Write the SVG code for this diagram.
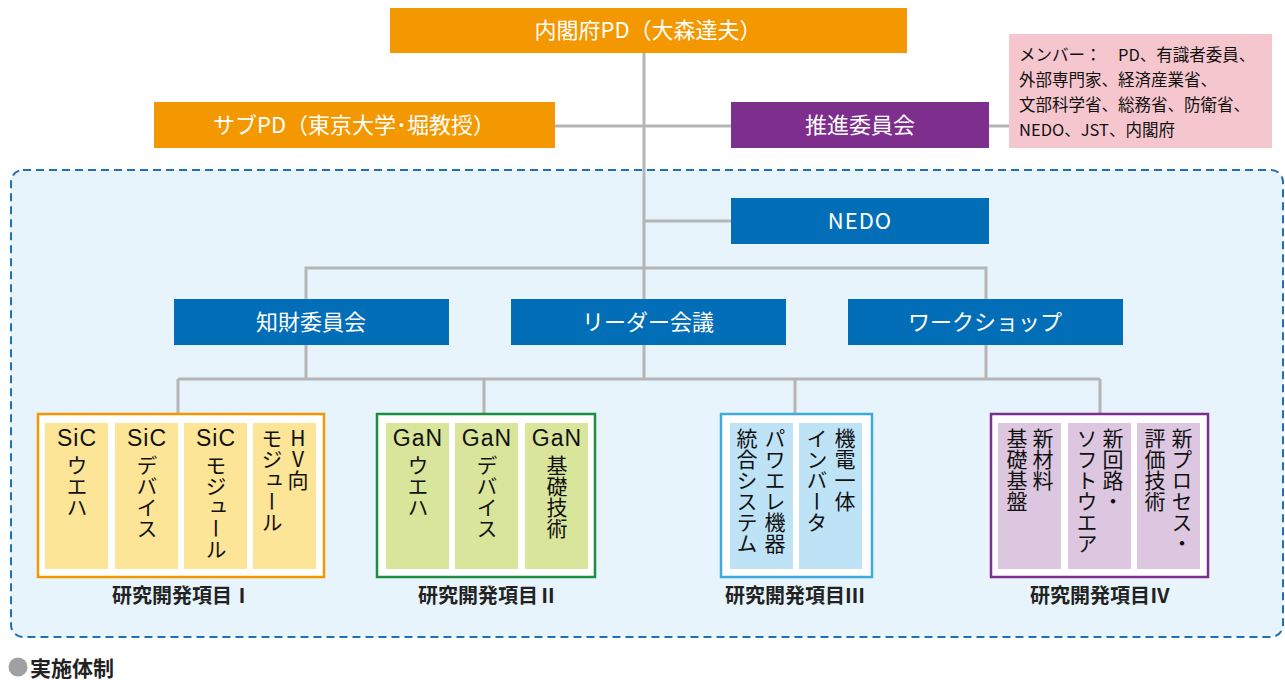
<svg xmlns="http://www.w3.org/2000/svg" width="1285" height="680" viewBox="0 0 1285 680">
<style>
text{font-family:"Noto Sans CJK JP","Noto Sans",sans-serif}
.lbl{fill:#fff;font-size:22px;text-anchor:middle}
.orange{fill:#F39800}
.blue{fill:#036EB8}
.purple{fill:#7E2E8C}
.conn{stroke:#B5B5B5;stroke-width:3;fill:none}
.grp{fill:#fff;stroke-width:2.5}
.abbr{font-family:"Liberation Sans",Arial,sans-serif;font-size:23px;text-anchor:middle;fill:#111;letter-spacing:1px}
.vt{writing-mode:vertical-rl;text-orientation:upright;font-size:21px;fill:#111}
.cap{font-size:20px;font-weight:bold;text-anchor:middle;fill:#222}
.mem{font-size:16.5px;fill:#111}
</style>
<rect id="container" x="11" y="170" width="1272" height="467" rx="12" fill="#E7F4FC" stroke="#1F70B6" stroke-width="2" stroke-dasharray="8 5"/>
<g id="connectors" class="conn">
<line x1="644" y1="53" x2="644" y2="379"/>
<line x1="555" y1="126" x2="731" y2="126"/>
<line x1="989" y1="126" x2="1009" y2="126"/>
<line x1="644" y1="221" x2="731" y2="221"/>
<polyline points="306,299 306,268 986,268 986,299"/>
<line x1="306" y1="345" x2="306" y2="379"/>
<line x1="986" y1="345" x2="986" y2="379"/>
<line x1="178" y1="379" x2="1100" y2="379"/>
<line x1="178" y1="379" x2="178" y2="414"/>
<line x1="484" y1="379" x2="484" y2="414"/>
<line x1="795" y1="379" x2="795" y2="414"/>
<line x1="1100" y1="379" x2="1100" y2="414"/>
</g>
<g id="cabinet-pd"><rect class="orange" x="390" y="8" width="517" height="45"/><text class="lbl" x="648" y="38">内閣府PD（大森達夫）</text></g>
<g id="sub-pd"><rect class="orange" x="154" y="102" width="401" height="46"/><text class="lbl" x="354" y="133">サブPD（東京大学･堀教授）</text></g>
<g id="promotion-committee"><rect class="purple" x="731" y="102" width="258" height="46"/><text class="lbl" x="860" y="133">推進委員会</text></g>
<g id="members"><rect x="1009" y="34" width="263" height="114" fill="#F6C6CE"/>
<text class="mem" x="1019" y="61">メンバー：　PD、有識者委員、</text>
<text class="mem" x="1019" y="86">外部専門家、経済産業省、</text>
<text class="mem" x="1019" y="111">文部科学省、総務省、防衛省、</text>
<text class="mem" x="1019" y="136">NEDO、JST、内閣府</text></g>
<g id="nedo"><rect class="blue" x="731" y="198" width="258" height="46"/><text class="lbl" x="860" y="229" letter-spacing="1">NEDO</text></g>
<g id="ip-committee"><rect class="blue" x="174" y="299" width="275" height="46"/><text class="lbl" x="311" y="330">知財委員会</text></g>
<g id="leader-meeting"><rect class="blue" x="511" y="299" width="275" height="46"/><text class="lbl" x="648" y="330">リーダー会議</text></g>
<g id="workshop"><rect class="blue" x="848" y="299" width="275" height="46"/><text class="lbl" x="985" y="330">ワークショップ</text></g>

<g id="item1">
<rect class="grp" x="38" y="414" width="286" height="163" stroke="#F39800"/>
<g fill="#FCE597"><rect x="45" y="423" width="63" height="146"/><rect x="115" y="423" width="63" height="146"/><rect x="184" y="423" width="63" height="146"/><rect x="253" y="423" width="63" height="146"/></g>
<text class="abbr" x="77" y="446">SiC</text><text class="vt" x="77" y="455">ウエハ</text>
<text class="abbr" x="147" y="446">SiC</text><text class="vt" x="147" y="455">デバイス</text>
<text class="abbr" x="216" y="446">SiC</text><text class="vt" x="216" y="455">モジュール</text>
<text class="vt" x="298" y="428">HV向</text><text class="vt" x="272" y="428">モジュール</text>
<text class="cap" x="182" y="603">研究開発項目Ⅰ</text>
</g>
<g id="item2">
<rect class="grp" x="377" y="414" width="218" height="163" stroke="#1B8E3F"/>
<g fill="#D9E59B"><rect x="386" y="423" width="63" height="146"/><rect x="455" y="423" width="63" height="146"/><rect x="525" y="423" width="63" height="146"/></g>
<text class="abbr" x="418" y="446">GaN</text><text class="vt" x="418" y="455">ウエハ</text>
<text class="abbr" x="487" y="446">GaN</text><text class="vt" x="487" y="455">デバイス</text>
<text class="abbr" x="557" y="446">GaN</text><text class="vt" x="557" y="455">基礎技術</text>
<text class="cap" x="488" y="603">研究開発項目Ⅱ</text>
</g>
<g id="item3">
<rect class="grp" x="721" y="414" width="151" height="163" stroke="#3EAAE0"/>
<g fill="#BEE2F6"><rect x="730" y="423" width="63" height="146"/><rect x="799" y="423" width="63" height="146"/></g>
<text class="vt" x="775" y="428">パワエレ機器</text><text class="vt" x="747" y="428">統合システム</text>
<text class="vt" x="845" y="428">機電一体</text><text class="vt" x="817" y="428">インバータ</text>
<text class="cap" x="795" y="603">研究開発項目Ⅲ</text>
</g>
<g id="item4">
<rect class="grp" x="991" y="414" width="217" height="163" stroke="#7E2E8C"/>
<g fill="#DDC7E0"><rect x="998" y="423" width="63" height="146"/><rect x="1068" y="423" width="63" height="146"/><rect x="1137" y="423" width="63" height="146"/></g>
<text class="vt" x="1043" y="428">新材料</text><text class="vt" x="1017" y="428">基礎基盤</text>
<text class="vt" x="1113" y="428">新回路・</text><text class="vt" x="1087" y="428">ソフトウエア</text>
<text class="vt" x="1182" y="428">新プロセス・</text><text class="vt" x="1155" y="428">評価技術</text>
<text class="cap" x="1100" y="603">研究開発項目Ⅳ</text>
</g>
<g id="footer"><circle cx="18" cy="667" r="9.5" fill="#A0A0A0"/><text x="30" y="676" font-size="21" font-weight="bold" fill="#222">実施体制</text></g>
</svg>
